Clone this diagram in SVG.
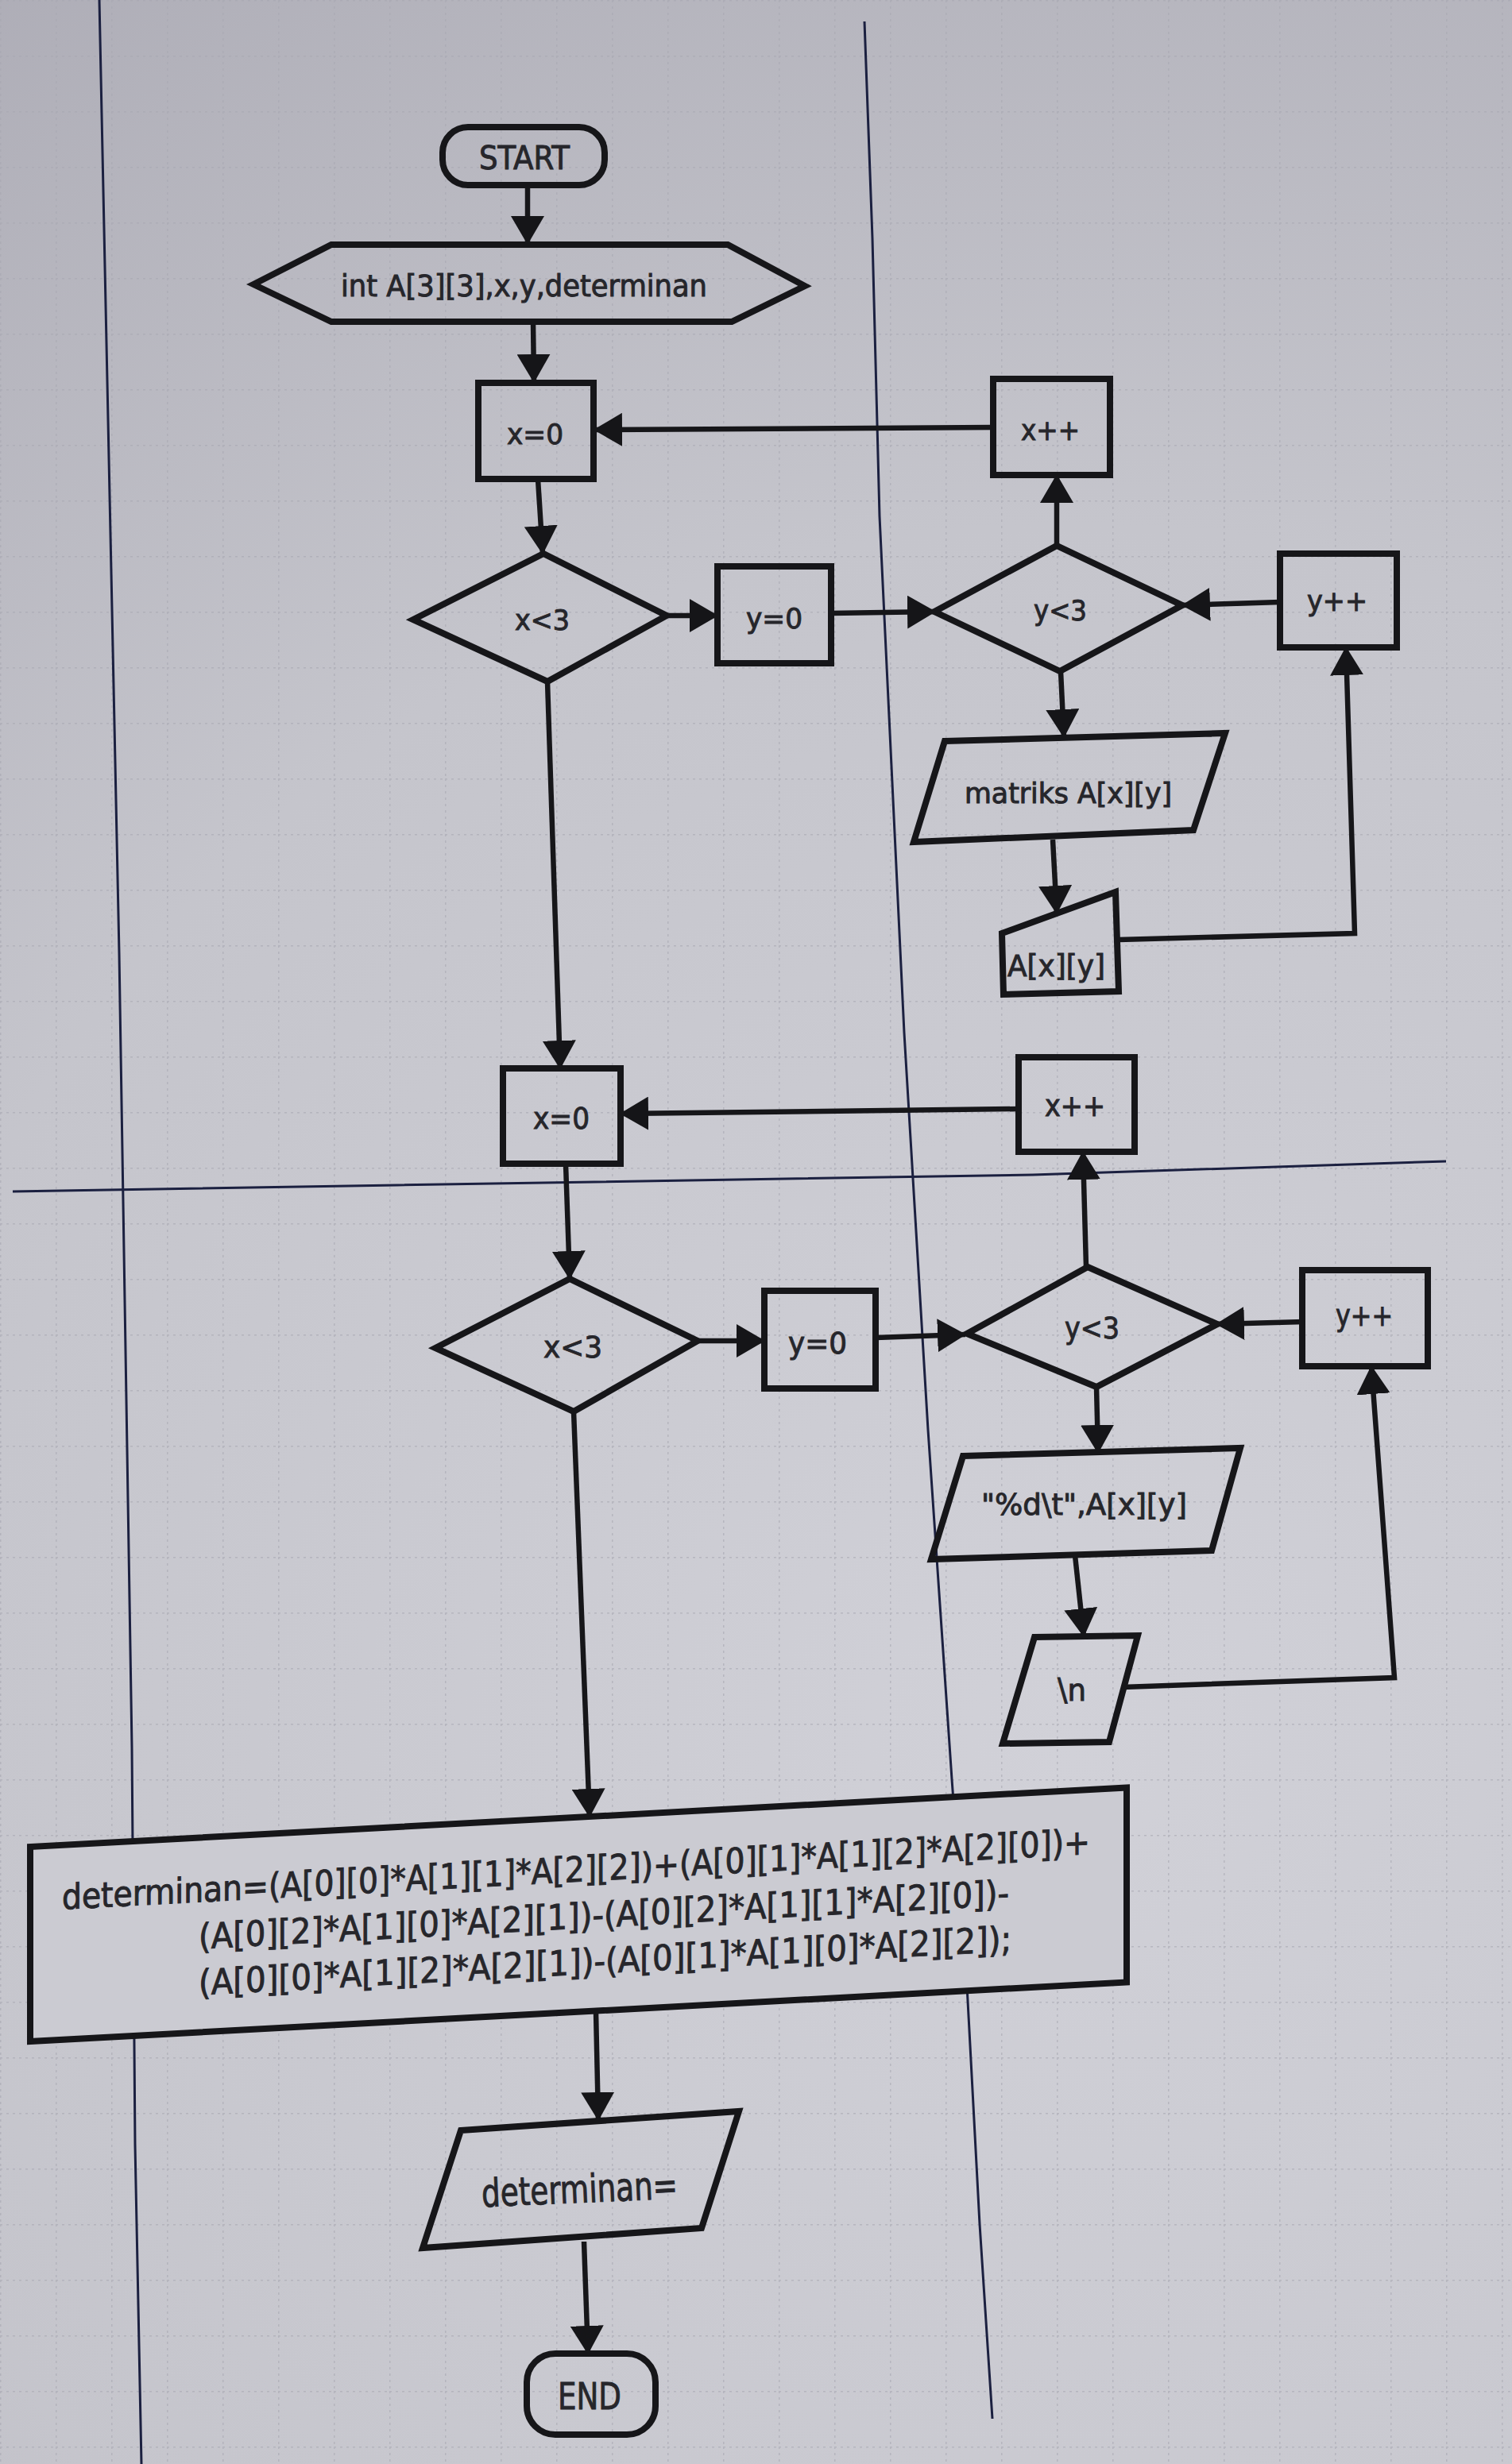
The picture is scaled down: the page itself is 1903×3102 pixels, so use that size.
<svg xmlns="http://www.w3.org/2000/svg" width="1903" height="3102" viewBox="0 0 1903 3102">
  <defs>
    <radialGradient id="paper" gradientUnits="userSpaceOnUse" cx="1350" cy="2200" r="2800">
      <stop offset="0" stop-color="#d1d1d8"/>
      <stop offset="0.55" stop-color="#c5c5cc"/>
      <stop offset="1" stop-color="#aaa9b3"/>
    </radialGradient>
    <pattern id="grid" patternUnits="userSpaceOnUse" width="70" height="70">
      <path d="M0 0.5 H70 M0.5 0 V70" fill="none" stroke="#a7a7b0" stroke-width="2" stroke-dasharray="3 5" opacity="0.6"/>
    </pattern>
    <marker id="ah" markerUnits="userSpaceOnUse" markerWidth="36" markerHeight="42" viewBox="0 0 36 42" refX="35" refY="21" orient="auto">
      <path d="M0 0 L36 21 L0 42 Z" fill="#151518"/>
    </marker>
    <style>
      .shape { fill: none; stroke: #161619; stroke-width: 8; stroke-linejoin: miter; }
      .solid { fill: #cbcbd2; }
      .conn { fill: none; stroke: #161619; stroke-width: 6.5; }
      .lane { fill: none; stroke: #1b2040; stroke-width: 3; }
      .lbl { font-family: "DejaVu Sans Condensed", "DejaVu Sans", sans-serif; font-stretch: condensed; fill: #26262b; stroke: #26262b; stroke-width: 0.9; }
    </style>
  </defs>

  <!-- paper and printed grid -->
  <rect width="1903" height="3102" fill="url(#paper)"/>
  <rect width="1903" height="3102" fill="url(#grid)"/>

  <!-- swimlane rules -->
  <g id="lanes">
    <polyline class="lane" points="125,0 150,1200 166,2200 170,2700 178,3102"/>
    <polyline class="lane" points="1088,27 1098,300 1107,650 1138,1300 1168,1800 1198,2240 1217,2500 1233,2800 1249,3045"/>
    <polyline class="lane" points="16,1500 500,1492 1300,1479 1820,1462"/>
  </g>

  <!-- connectors -->
  <g id="connectors">
    <line class="conn" x1="664" y1="233" x2="664" y2="307" marker-end="url(#ah)"/>
    <line class="conn" x1="671" y1="405" x2="672" y2="481" marker-end="url(#ah)"/>
    <line class="conn" x1="677" y1="603" x2="683" y2="697" marker-end="url(#ah)"/>
    <line class="conn" x1="839" y1="775" x2="903" y2="775" marker-end="url(#ah)"/>
    <line class="conn" x1="1046" y1="772" x2="1177" y2="770" marker-end="url(#ah)"/>
    <line class="conn" x1="1330" y1="687" x2="1330" y2="598" marker-end="url(#ah)"/>
    <line class="conn" x1="1250" y1="538" x2="748" y2="541" marker-end="url(#ah)"/>
    <line class="conn" x1="1611" y1="758" x2="1488" y2="762" marker-end="url(#ah)"/>
    <line class="conn" x1="1335" y1="845" x2="1339" y2="928" marker-end="url(#ah)"/>
    <line class="conn" x1="1325" y1="1057" x2="1330" y2="1150" marker-end="url(#ah)"/>
    <polyline class="conn" points="1408,1183 1705,1175 1694,815" marker-end="url(#ah)"/>
    <line class="conn" x1="689" y1="858" x2="705" y2="1345" marker-end="url(#ah)"/>
    <line class="conn" x1="1282" y1="1396" x2="781" y2="1402" marker-end="url(#ah)"/>
    <line class="conn" x1="712" y1="1465" x2="717" y2="1610" marker-end="url(#ah)"/>
    <line class="conn" x1="878" y1="1688" x2="962" y2="1688" marker-end="url(#ah)"/>
    <line class="conn" x1="1102" y1="1684" x2="1215" y2="1680" marker-end="url(#ah)"/>
    <line class="conn" x1="1367" y1="1595" x2="1363" y2="1450" marker-end="url(#ah)"/>
    <line class="conn" x1="1641" y1="1664" x2="1531" y2="1667" marker-end="url(#ah)"/>
    <line class="conn" x1="1380" y1="1746" x2="1382" y2="1829" marker-end="url(#ah)"/>
    <line class="conn" x1="1353" y1="1958" x2="1364" y2="2060" marker-end="url(#ah)"/>
    <polyline class="conn" points="1413,2124 1755,2112 1726,1720" marker-end="url(#ah)"/>
    <line class="conn" x1="722" y1="1777" x2="742" y2="2287" marker-end="url(#ah)"/>
    <line class="conn" x1="750" y1="2532" x2="753" y2="2669" marker-end="url(#ah)"/>
    <line class="conn" x1="735" y1="2822" x2="740" y2="2963" marker-end="url(#ah)"/>
  </g>

  <!-- nodes -->
  <g id="start">
    <rect class="shape" x="557" y="160" width="204" height="73" rx="32" ry="32"/>
    <text class="lbl" x="603" y="213" font-size="40" textLength="114" lengthAdjust="spacingAndGlyphs">START</text>
  </g>

  <g id="declare">
    <polygon class="shape" points="319,358 417,308 916,308 1013,360 921,405 417,405"/>
    <text class="lbl" x="429" y="373" font-size="37" textLength="461" lengthAdjust="spacingAndGlyphs">int A[3][3],x,y,determinan</text>
  </g>

  <g id="x-init-1">
    <rect class="shape" x="602" y="482" width="145" height="121"/>
    <text class="lbl" x="638" y="559" font-size="36" textLength="71" lengthAdjust="spacingAndGlyphs">x=0</text>
  </g>

  <g id="x-inc-1">
    <rect class="shape" x="1250" y="477" width="147" height="121"/>
    <text class="lbl" x="1285" y="554" font-size="36" textLength="74" lengthAdjust="spacingAndGlyphs">x++</text>
  </g>

  <g id="x-test-1">
    <polygon class="shape" points="520,780 684,697 839,775 689,858"/>
    <text class="lbl" x="648" y="793" font-size="35" textLength="69" lengthAdjust="spacingAndGlyphs">x&lt;3</text>
  </g>

  <g id="y-init-1">
    <rect class="shape" x="903" y="713" width="143" height="122"/>
    <text class="lbl" x="939" y="791" font-size="35" textLength="71" lengthAdjust="spacingAndGlyphs">y=0</text>
  </g>

  <g id="y-test-1">
    <polygon class="shape" points="1176,770 1330,687 1488,762 1334,845"/>
    <text class="lbl" x="1301" y="781" font-size="35" textLength="67" lengthAdjust="spacingAndGlyphs">y&lt;3</text>
  </g>

  <g id="y-inc-1">
    <rect class="shape" x="1611" y="697" width="147" height="118"/>
    <text class="lbl" x="1645" y="769" font-size="35" textLength="76" lengthAdjust="spacingAndGlyphs">y++</text>
  </g>

  <g id="prompt-matrix">
    <polygon class="shape" points="1189,933 1542,923 1502,1045 1150,1060"/>
    <text class="lbl" x="1214" y="1011" font-size="35" textLength="261" lengthAdjust="spacingAndGlyphs">matriks A[x][y]</text>
  </g>

  <g id="read-element">
    <polygon class="shape" points="1261,1175 1404,1123 1408,1248 1263,1252"/>
    <text class="lbl" x="1268" y="1229" font-size="37" textLength="123" lengthAdjust="spacingAndGlyphs">A[x][y]</text>
  </g>

  <g id="x-init-2">
    <rect class="shape" x="633" y="1345" width="148" height="120"/>
    <text class="lbl" x="671" y="1421" font-size="38" textLength="71" lengthAdjust="spacingAndGlyphs">x=0</text>
  </g>

  <g id="x-inc-2">
    <rect class="shape" x="1282" y="1331" width="146" height="119"/>
    <text class="lbl" x="1315" y="1405" font-size="37" textLength="76" lengthAdjust="spacingAndGlyphs">x++</text>
  </g>

  <g id="x-test-2">
    <polygon class="shape" points="548,1697 717,1610 878,1688 722,1777"/>
    <text class="lbl" x="684" y="1709" font-size="38" textLength="74" lengthAdjust="spacingAndGlyphs">x&lt;3</text>
  </g>

  <g id="y-init-2">
    <rect class="shape" x="962" y="1625" width="140" height="123"/>
    <text class="lbl" x="992" y="1704" font-size="38" textLength="74" lengthAdjust="spacingAndGlyphs">y=0</text>
  </g>

  <g id="y-test-2">
    <polygon class="shape" points="1217,1679 1369,1595 1532,1667 1380,1746"/>
    <text class="lbl" x="1340" y="1685" font-size="38" textLength="69" lengthAdjust="spacingAndGlyphs">y&lt;3</text>
  </g>

  <g id="y-inc-2">
    <rect class="shape" x="1639" y="1599" width="158" height="121"/>
    <text class="lbl" x="1681" y="1669" font-size="38" textLength="72" lengthAdjust="spacingAndGlyphs">y++</text>
  </g>

  <g id="print-element">
    <polygon class="shape" points="1212,1833 1561,1823 1525,1952 1172,1963"/>
    <text class="lbl" x="1235" y="1907" font-size="38" textLength="259" lengthAdjust="spacingAndGlyphs">"%d\t",A[x][y]</text>
  </g>

  <g id="print-newline">
    <polygon class="shape" points="1302,2061 1432,2059 1396,2193 1262,2195"/>
    <text class="lbl" x="1331" y="2141" font-size="39" textLength="36" lengthAdjust="spacingAndGlyphs">\n</text>
  </g>

  <!-- the process box hides the lane rules behind it -->
  <g id="compute-determinant" transform="matrix(1,-0.054,0,1,38,2325)">
    <rect class="shape solid" x="0" y="0" width="1380" height="245"/>
    <text class="lbl" x="40" y="81" font-size="44" textLength="1294" lengthAdjust="spacingAndGlyphs">determinan=(A[0][0]*A[1][1]*A[2][2])+(A[0][1]*A[1][2]*A[2][0])+</text>
    <text class="lbl" x="212" y="140" font-size="44" textLength="1020" lengthAdjust="spacingAndGlyphs">(A[0][2]*A[1][0]*A[2][1])-(A[0][2]*A[1][1]*A[2][0])-</text>
    <text class="lbl" x="212" y="198" font-size="44" textLength="1023" lengthAdjust="spacingAndGlyphs">(A[0][0]*A[1][2]*A[2][1])-(A[0][1]*A[1][0]*A[2][2]);</text>
  </g>

  <g id="print-determinant">
    <polygon class="shape" points="580,2682 930,2658 883,2805 532,2830"/>
    <text class="lbl" x="606" y="2773" font-size="49" textLength="247" lengthAdjust="spacingAndGlyphs" transform="rotate(-2.5 730 2757)">determinan=</text>
  </g>

  <g id="end">
    <rect class="shape" x="663" y="2963" width="162" height="102" rx="36" ry="36"/>
    <text class="lbl" x="702" y="3033" font-size="47" textLength="80" lengthAdjust="spacingAndGlyphs">END</text>
  </g>
</svg>
